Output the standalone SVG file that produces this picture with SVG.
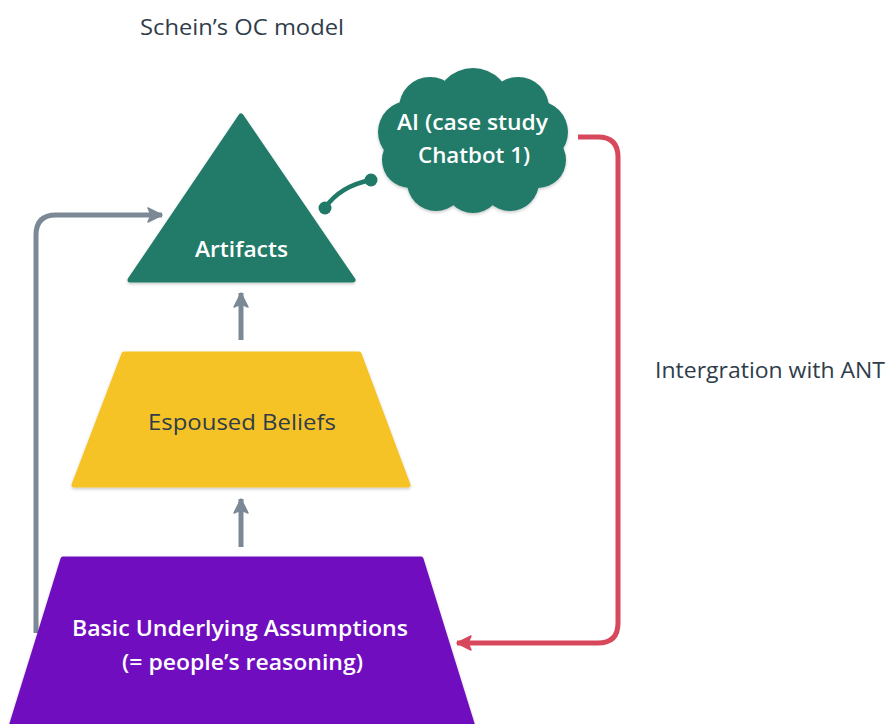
<svg xmlns="http://www.w3.org/2000/svg" width="889" height="724" viewBox="0 0 889 724">
  <defs>
    <filter id="shadow" x="-10%" y="-10%" width="120%" height="130%">
      <feDropShadow dx="0" dy="1.5" stdDeviation="1.5" flood-color="#000" flood-opacity="0.22"/>
    </filter>
    <marker id="arrowGray" markerUnits="userSpaceOnUse" viewBox="0 0 16 16" markerWidth="16" markerHeight="16" refX="15" refY="8" orient="auto">
      <path d="M1,1 L15,8 L1,15 L4,8 z" fill="#7b8896" stroke="#7b8896" stroke-width="1.5" stroke-linejoin="round"/>
    </marker>
    <marker id="arrowRed" markerUnits="userSpaceOnUse" viewBox="0 0 16 16" markerWidth="16" markerHeight="16" refX="15" refY="8" orient="auto">
      <path d="M1,1 L15,8 L1,15 L4,8 z" fill="#d8485d" stroke="#d8485d" stroke-width="1.5" stroke-linejoin="round"/>
    </marker>
    <style>
      .lbl { font-family: "Open Sans", "Liberation Sans", "DejaVu Sans", sans-serif; }
      .plain { font-size: 21px; fill: #2f3d4a; font-weight: 400; }
      .node { font-size: 21px; font-weight: 600; }
      .light { fill: #ffffff; }
      .dark { fill: #2f3d4a; }
      .shape { stroke-width: 5; stroke-linejoin: round; filter: url(#shadow); }
      .edge { fill: none; stroke-width: 5; stroke-linecap: butt; stroke-linejoin: round; }
    </style>
  </defs>

  <rect width="889" height="724" fill="#ffffff"/>

  <!-- free-standing captions -->
  <text class="lbl plain" x="140" y="35" textLength="204" lengthAdjust="spacingAndGlyphs">Schein’s OC model</text>
  <text class="lbl plain" x="655" y="378" textLength="230" lengthAdjust="spacingAndGlyphs">Intergration with ANT</text>

  <!-- connectors -->
  <g id="connectors">
    <path class="edge" stroke="#7b8896" d="M36,633 V235 Q36,215 56,215 H162" marker-end="url(#arrowGray)"/>
    <path class="edge" stroke="#7b8896" d="M241,340 V293" marker-end="url(#arrowGray)"/>
    <path class="edge" stroke="#7b8896" d="M241,547 V499" marker-end="url(#arrowGray)"/>
    <path class="edge" stroke="#d8485d" d="M578,137 H598 Q618,137 618,157 V623 Q618,643 598,643 H457" marker-end="url(#arrowRed)"/>
    <g fill="#217a68" stroke="#217a68">
      <path d="M325,208 Q340,186 371,180" fill="none" stroke-width="4.5"/>
      <circle cx="325" cy="208" r="6.5" stroke="none"/>
      <circle cx="371" cy="180" r="6.5" stroke="none"/>
    </g>
  </g>

  <!-- Artifacts -->
  <g id="artifacts">
    <polygon class="shape" fill="#217a68" stroke="#217a68" points="241,116 353,280 130,280"/>
    <text class="lbl node light" x="195" y="257" textLength="93" lengthAdjust="spacingAndGlyphs">Artifacts</text>
  </g>

  <!-- Espoused Beliefs -->
  <g id="espoused-beliefs">
    <polygon class="shape" fill="#f6c326" stroke="#f6c326" points="124,354 359,354 408,485 74,485"/>
    <text class="lbl node dark" x="148" y="430" textLength="188" lengthAdjust="spacingAndGlyphs" style="font-weight:500">Espoused Beliefs</text>
  </g>

  <!-- Basic Underlying Assumptions -->
  <g id="basic-assumptions">
    <polygon class="shape" fill="#7010bf" stroke="#7010bf" points="63,559 421,559 474,730 10,730"/>
    <text class="lbl node light" x="72" y="636" textLength="336" lengthAdjust="spacingAndGlyphs">Basic Underlying Assumptions</text>
    <text class="lbl node light" x="122" y="670" textLength="241" lengthAdjust="spacingAndGlyphs">(= people’s reasoning)</text>
  </g>

  <!-- AI cloud -->
  <g id="ai-cloud">
    <g fill="#217a68" filter="url(#shadow)">
      <circle cx="473" cy="106" r="38"/>
      <circle cx="430" cy="108" r="31"/>
      <circle cx="518" cy="108" r="31"/>
      <circle cx="409" cy="132" r="31"/>
      <circle cx="537" cy="132" r="31"/>
      <circle cx="410" cy="160" r="28"/>
      <circle cx="538" cy="160" r="28"/>
      <circle cx="436" cy="182" r="29"/>
      <circle cx="510" cy="182" r="29"/>
      <circle cx="473" cy="184" r="29"/>
      <ellipse cx="473" cy="146" rx="74" ry="48"/>
    </g>
    <text class="lbl node light" x="397" y="130" textLength="151" lengthAdjust="spacingAndGlyphs">AI (case study</text>
    <text class="lbl node light" x="418" y="163" textLength="112" lengthAdjust="spacingAndGlyphs">Chatbot 1)</text>
  </g>
</svg>
